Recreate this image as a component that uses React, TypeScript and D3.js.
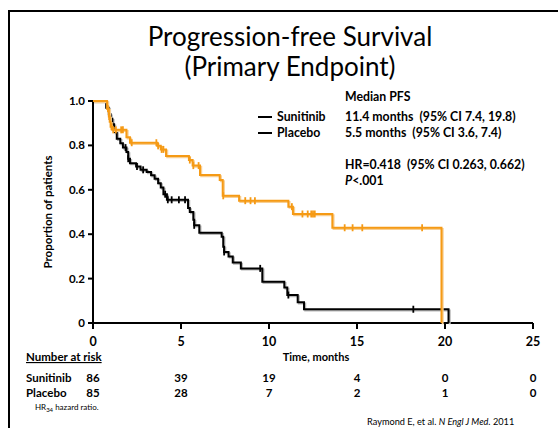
import * as d3 from 'd3';

// Kaplan-Meier steps (time in months, proportion)
const sunitinibTime = [0, 0.8, 0.9, 0.95, 1.0, 1.1, 1.9, 2.1, 3.65, 3.85, 4.15, 5.45, 5.66, 6.08, 7.2, 7.37, 8.3, 11.1, 11.36, 13.6, 19.8];
const sunitinibSurv = [1.0, 0.965, 0.93, 0.906, 0.884, 0.87, 0.837, 0.812, 0.798, 0.782, 0.752, 0.734, 0.709, 0.667, 0.644, 0.573, 0.551, 0.524, 0.491, 0.429, 0];
const sunitinibCensor = [0.85, 0.92, 1.05, 1.15, 1.3, 1.6, 1.7, 2.2, 3.6, 3.7, 3.9, 4.0, 5.5, 5.7, 6.0, 7.4, 8.65, 8.95, 9.2, 11.3, 11.9, 12.2, 12.4, 12.5, 12.6, 14.3, 14.75, 15.3, 18.7];

const placeboTime = [0, 0.75, 0.9, 1.0, 1.1, 1.2, 1.35, 1.55, 1.7, 1.9, 2.0, 2.1, 2.45, 2.7, 3.05, 3.3, 3.5, 3.7, 3.85, 4.0, 4.2, 5.4, 5.5, 5.7, 5.75, 6.04, 7.31, 7.4, 7.45, 7.7, 7.94, 8.4, 9.62, 10.87, 11.04, 11.63, 11.99, 20.2];
const placeboSurv = [1.0, 0.97, 0.94, 0.92, 0.895, 0.86, 0.83, 0.81, 0.79, 0.77, 0.74, 0.72, 0.705, 0.69, 0.68, 0.665, 0.65, 0.63, 0.61, 0.58, 0.555, 0.518, 0.5, 0.465, 0.44, 0.406, 0.389, 0.344, 0.32, 0.3, 0.272, 0.246, 0.186, 0.16, 0.126, 0.093, 0.062, 0];
const placeboCensor = [1.85, 2.0, 2.5, 2.85, 4.1, 4.25, 4.47, 4.88, 5.23, 5.75, 7.45, 9.5, 11.1, 18.2];

const xTicks = [0, 5, 10, 15, 20, 25];
const yTicks = [0, 0.2, 0.4, 0.6, 0.8, 1.0];
const atRiskSunitinib = [86, 39, 19, 4, 0, 0];
const atRiskPlacebo = [85, 28, 7, 2, 1, 0];

const ORANGE = '#F59A15';
const FONT = 'Lato, "Open Sans", sans-serif';

const x = d3.scaleLinear().domain([0, 25]).range([93, 533]);
const y = d3.scaleLinear().domain([0, 1]).range([323, 101]);

const line = d3.line<[number, number]>()
  .x(d => x(d[0]))
  .y(d => y(d[1]))
  .curve(d3.curveStepAfter);

function pts(t: number[], s: number[]): [number, number][] {
  return t.map((v, i) => [v, s[i]]);
}

function survAt(t: number[], s: number[], time: number) {
  const i = d3.bisectRight(t, time) - 1;
  return s[Math.max(0, i)];
}

function Curve({ t, s, censor, color, shadow }: { t: number[]; s: number[]; censor: number[]; color: string; shadow: string }) {
  const d = line(pts(t, s)) || '';
  return (
    <g>
      <path d={d} transform="translate(1.2,1.2)" fill="none" stroke={shadow} strokeWidth={2} />
      <path d={d} fill="none" stroke={color} strokeWidth={2} />
      {censor.map((c, i) => {
        const cy = y(survAt(t, s, c));
        return <line key={i} x1={x(c)} x2={x(c)} y1={cy - 3.5} y2={cy + 3.5} stroke={color} strokeWidth={1.8} />;
      })}
    </g>
  );
}

export default function App() {
  return (
    <svg width={558} height={428} style={{ position: 'absolute', left: 0, top: 0 }} fontFamily={FONT}>
      <rect x={0} y={0} width={558} height={428} fill="#fff" />
      <rect x={9} y={11} width={600} height={500} fill="none" stroke="#000" strokeWidth={2} />

      <text x={290} y={46} textAnchor="middle" fontSize={26} fill="#000">Progression-free Survival</text>
      <text x={290} y={76} textAnchor="middle" fontSize={26} fill="#000">(Primary Endpoint)</text>

      {/* axes */}
      <line x1={x(0)} x2={x(0)} y1={y(1)} y2={y(0) + 1} stroke="#000" strokeWidth={2} />
      <line x1={x(0) - 1} x2={x(25)} y1={y(0)} y2={y(0)} stroke="#000" strokeWidth={2} />
      {yTicks.map(v => (
        <g key={v}>
          <line x1={x(0) - 5} x2={x(0)} y1={y(v)} y2={y(v)} stroke="#000" strokeWidth={2} />
          <text x={85} y={y(v) + 4} textAnchor="end" fontSize={11.5} fontWeight="bold">{v === 0 ? '0' : v.toFixed(1)}</text>
        </g>
      ))}
      {xTicks.map(v => (
        <g key={v}>
          <line x1={x(v)} x2={x(v)} y1={y(0)} y2={y(0) + 6} stroke="#000" strokeWidth={2} />
          <text x={x(v)} y={346} textAnchor="middle" fontSize={12.5} fontWeight="bold">{v}</text>
        </g>
      ))}
      <text transform={`translate(52,${y(0.5)}) rotate(-90)`} textAnchor="middle" fontSize={11.5} fontWeight="bold">Proportion of patients</text>
      <text x={316} y={361} textAnchor="middle" fontSize={11} fontWeight="bold">Time, months</text>

      <Curve t={placeboTime} s={placeboSurv} censor={placeboCensor} color="#000" shadow="#b8b8b8" />
      <Curve t={sunitinibTime} s={sunitinibSurv} censor={sunitinibCensor} color={ORANGE} shadow="#f8cf93" />

      {/* legend */}
      <g fontSize={12.3} fontWeight="bold">
        <text x={345} y={101}>Median PFS</text>
        <line x1={258} x2={272} y1={117} y2={117} stroke="#000" strokeWidth={2} />
        <text x={277} y={121}>Sunitinib</text>
        <text x={345} y={121} xmlSpace="preserve">11.4 months  (95% CI 7.4, 19.8)</text>
        <line x1={258} x2={272} y1={133} y2={133} stroke="#000" strokeWidth={2} />
        <text x={277} y={137}>Placebo</text>
        <text x={345} y={137} xmlSpace="preserve">5.5 months  (95% CI 3.6, 7.4)</text>
        <text x={345} y={169} xmlSpace="preserve">HR=0.418  (95% CI 0.263, 0.662)</text>
        <text x={345} y={185}><tspan fontStyle="italic">P</tspan>&lt;.001</text>
      </g>

      {/* number at risk */}
      <g fontSize={11.5} fontWeight="bold">
        <text x={26} y={361} textDecoration="underline">Number at risk</text>
        <text x={26} y={382}>Sunitinib</text>
        <text x={26} y={397}>Placebo</text>
        {xTicks.map((v, i) => (
          <text key={'s' + v} x={x(v)} y={382} textAnchor="middle">{atRiskSunitinib[i]}</text>
        ))}
        {xTicks.map((v, i) => (
          <text key={'p' + v} x={x(v)} y={397} textAnchor="middle">{atRiskPlacebo[i]}</text>
        ))}
      </g>

      <text x={35} y={410} fontSize={8}>HR<tspan fontSize={6} dy={2}>34</tspan><tspan dy={-2}> hazard ratio.</tspan></text>
      <text x={367} y={425} fontSize={9.2}>Raymond E, et al. <tspan fontStyle="italic">N Engl J Med.</tspan> 2011</text>
    </svg>
  );
}
